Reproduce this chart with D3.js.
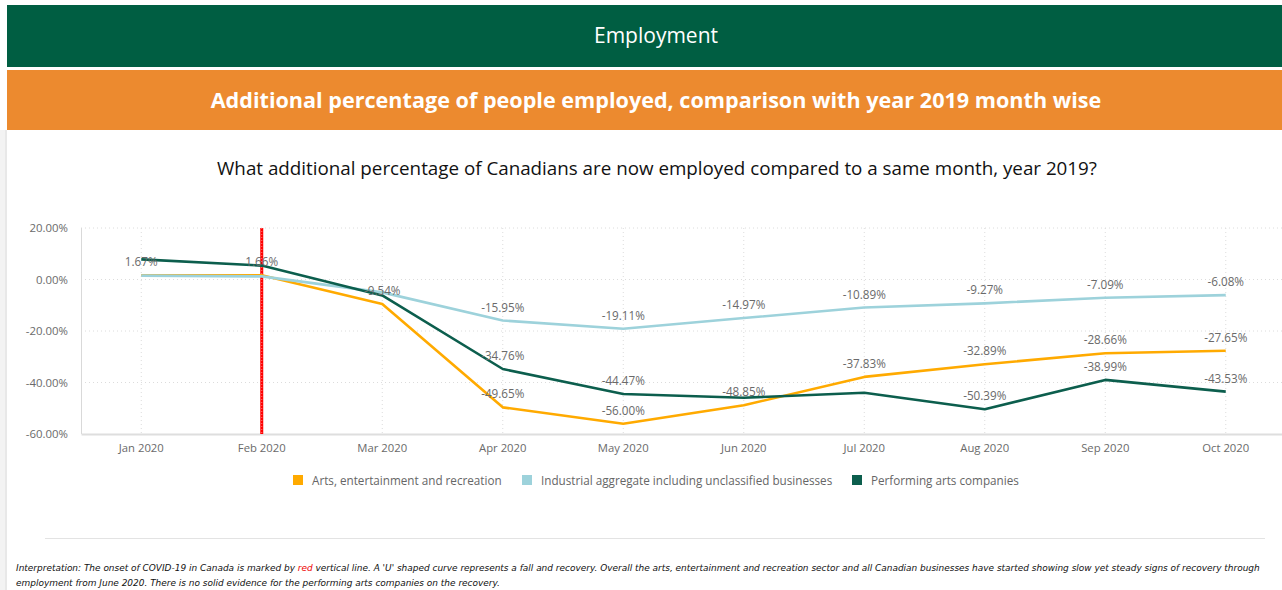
<!DOCTYPE html>
<html><head><meta charset="utf-8">
<script src="https://cdn.jsdelivr.net/npm/d3@7"></script>
<style>
html,body{margin:0;padding:0;background:#fff;}
svg{display:block;}
</style></head>
<body>
<svg id="chart" width="1282" height="590"></svg>
<script>
const months = ["Jan 2020","Feb 2020","Mar 2020","Apr 2020","May 2020","Jun 2020","Jul 2020","Aug 2020","Sep 2020","Oct 2020"];
const arts = [1.67, 1.66, -9.54, -49.65, -56.00, -48.85, -37.83, -32.89, -28.66, -27.65];
const industrial = [1.5, 1.2, -5.0, -15.95, -19.11, -14.97, -10.89, -9.27, -7.09, -6.08];
const performing = [7.8, 5.4, -6.2, -34.76, -44.47, -45.9, -44.0, -50.39, -38.99, -43.53];
const artsLabelled = [0,1,2,3,4,5,6,7,8,9];
const industrialLabelled = [3,4,5,6,7,8,9];
const performingLabelled = [3,4,7,8,9];
const yTicks = [20, 0, -20, -40, -60];
const seriesNames = ["Arts, entertainment and recreation","Industrial aggregate including unclassified businesses","Performing arts companies"];
const seriesColors = ["#FFAA00","#9DD2DB","#0C5E4D"];
const covidMonth = "Feb 2020";

const loc = d3.formatLocale({decimal:".", thousands:",", grouping:[3], currency:["$",""], minus:"-"});
const pct = v => loc.format(".2f")(v) + "%";

const svg = d3.select("#chart");
svg.append("rect").attr("x",0).attr("y",130).attr("width",7).attr("height",460).attr("fill","#f3f3f3");
svg.append("rect").attr("x",5).attr("y",130).attr("width",2).attr("height",460).attr("fill","#e8e8e8");
svg.append("rect").attr("x",7).attr("y",5).attr("width",1275).attr("height",62).attr("fill","#005E42");
svg.append("text").attr("x",656).attr("y",43).attr("text-anchor","middle").attr("fill","#fff")
  .attr("font-family","Open Sans").attr("font-size",21).text("Employment");
svg.append("rect").attr("x",7).attr("y",70).attr("width",1275).attr("height",60).attr("fill","#EC8A2F");
svg.append("text").attr("x",656).attr("y",108).attr("text-anchor","middle").attr("fill","#fff")
  .attr("font-family","Open Sans").attr("font-weight","bold").attr("font-size",21.6)
  .text("Additional percentage of people employed, comparison with year 2019 month wise");
svg.append("text").attr("x",657).attr("y",175).attr("text-anchor","middle").attr("fill","#111")
  .attr("font-family","Open Sans").attr("font-size",18.8)
  .text("What additional percentage of Canadians are now employed compared to a same month, year 2019?");

const x = d3.scaleBand().domain(months).range([81, 1286]);
const y = d3.scaleLinear().domain([-60, 20]).range([434, 228]);
const cx = m => x(m) + x.bandwidth()/2;

const g = svg.append("g");
g.selectAll(".hg").data(yTicks.filter(t => t !== -60)).join("line")
  .attr("x1",81).attr("x2",1282).attr("y1",d=>y(d)).attr("y2",d=>y(d))
  .attr("stroke","#dcdcdc").attr("stroke-dasharray","1,3");
g.selectAll(".vg").data(months).join("line")
  .attr("x1",d=>cx(d)).attr("x2",d=>cx(d)).attr("y1",228).attr("y2",434)
  .attr("stroke","#dcdcdc").attr("stroke-dasharray","1,3");
g.append("line").attr("x1",81.5).attr("x2",81.5).attr("y1",228).attr("y2",434).attr("stroke","#d9d9d9");

const yAxis = svg.append("g").attr("transform","translate(81,0)")
  .call(d3.axisLeft(y).tickValues(yTicks).tickFormat(pct).tickSize(0).tickPadding(13));
yAxis.select(".domain").remove();
yAxis.selectAll("text").attr("fill","#6a6a6a").attr("font-family","Open Sans").attr("font-size",11.4);

const xAxis = svg.append("g").attr("transform","translate(0,434)")
  .call(d3.axisBottom(x).tickSize(0).tickPadding(10));
xAxis.select(".domain").attr("stroke","#dedede").attr("stroke-width",2);
xAxis.selectAll("text").attr("fill","#6a6a6a").attr("font-family","Open Sans").attr("font-size",11.3);

svg.append("line").attr("x1",cx(covidMonth)).attr("x2",cx(covidMonth)).attr("y1",228).attr("y2",434)
  .attr("stroke","#ff0000").attr("stroke-width",3);
svg.append("line").attr("x1",cx(covidMonth)).attr("x2",cx(covidMonth)).attr("y1",228).attr("y2",434)
  .attr("stroke","#ff9a9a").attr("stroke-width",0.8).attr("stroke-dasharray","1,2");

const series = [
  {vals: arts, labelled: artsLabelled},
  {vals: industrial, labelled: industrialLabelled},
  {vals: performing, labelled: performingLabelled}
];
const line = d3.line().x((d,i)=>cx(months[i])).y(d=>y(d));
series.forEach((s,k)=>{
  svg.append("path").datum(s.vals).attr("d",line).attr("fill","none")
    .attr("stroke",seriesColors[k]).attr("stroke-width",2.6).attr("stroke-linejoin","round");
});
series.forEach((s,k)=>{
  svg.append("g").selectAll("text").data(s.labelled).join("text")
    .attr("x",i=>cx(months[i])).attr("y",i=>y(s.vals[i]) - 9)
    .attr("text-anchor","middle").attr("fill","#6a6a6a")
    .attr("font-family","Open Sans").attr("font-size",11.7)
    .text(i=>pct(s.vals[i]));
});

const legX = [293, 522, 852];
const leg = svg.append("g");
seriesNames.forEach((n,k)=>{
  leg.append("rect").attr("x",legX[k]).attr("y",475).attr("width",10).attr("height",10).attr("fill",seriesColors[k]);
  leg.append("text").attr("x",legX[k]+19).attr("y",484.5).attr("fill","#666")
    .attr("font-family","Open Sans").attr("font-size",11.7).text(n);
});

svg.append("line").attr("x1",45).attr("x2",1265).attr("y1",538.5).attr("y2",538.5).attr("stroke","#e3e3e3");

const parts1 = [
  {t:"Interpretation: The onset of COVID-19 in Canada is marked by ", c:"#111"},
  {t:"red", c:"#e00"},
  {t:" vertical line. A 'U' shaped curve represents a fall and recovery. Overall the arts, entertainment and recreation sector and all Canadian businesses have started showing slow yet steady signs of recovery through", c:"#111"}
];
const line2 = "employment from June 2020. There is no solid evidence for the performing arts companies on the recovery.";
const fam = "DejaVu Sans";
let fs = 9.5;
const probe = svg.append("text").attr("font-family",fam).attr("font-style","italic").attr("font-size",fs)
  .text(parts1.map(p=>p.t).join(""));
const wTot = probe.node().getComputedTextLength();
probe.remove();
if (wTot > 0) fs = fs * 1246 / wTot;
let xx = 16;
parts1.forEach(p=>{
  const t = svg.append("text").attr("x",xx).attr("y",571).attr("font-family",fam).attr("font-style","italic")
    .attr("font-size",fs).attr("fill",p.c).attr("xml:space","preserve").style("white-space","pre").text(p.t);
  xx += t.node().getComputedTextLength();
});
svg.append("text").attr("x",16).attr("y",586).attr("font-family",fam).attr("font-style","italic")
  .attr("font-size",fs).attr("fill","#111").text(line2);
</script>
</body></html>
